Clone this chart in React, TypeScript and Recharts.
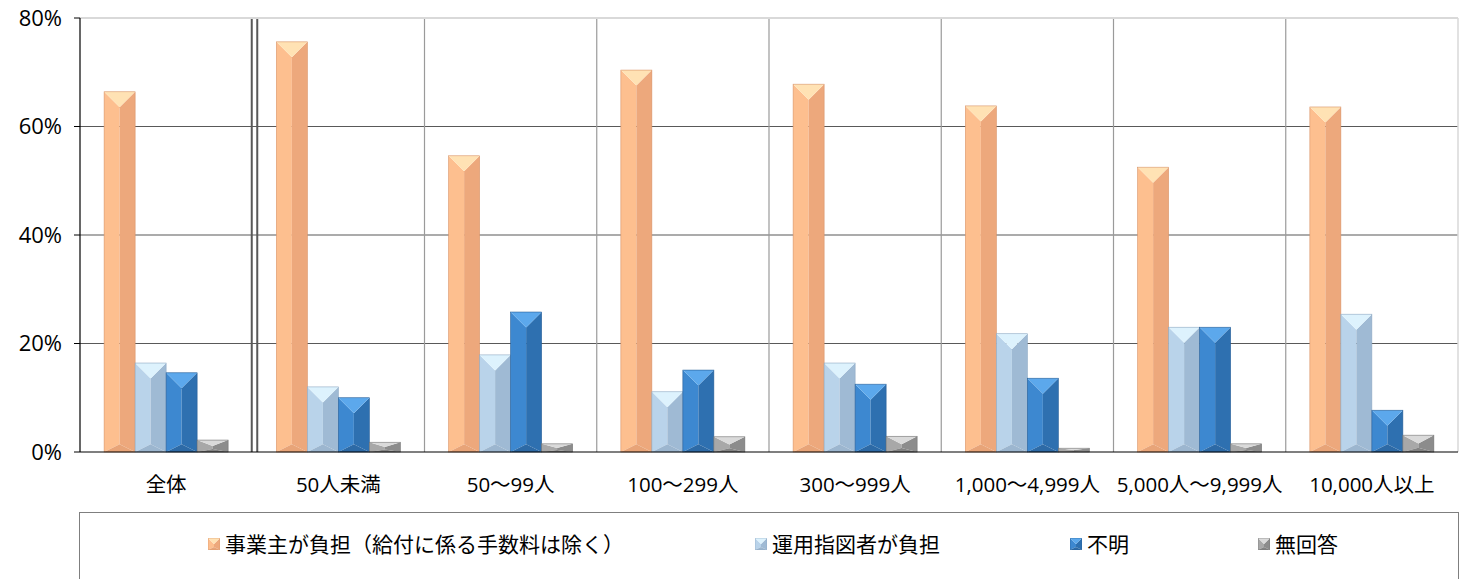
import React from 'react'
import {
  BarChart, Bar, XAxis, YAxis, CartesianGrid, ReferenceLine,
} from 'recharts'

// 企業規模別の負担区分（%）
const categories = ['全体', '50人未満', '50～99人', '100～299人', '300～999人', '1,000～4,999人', '5,000人～9,999人', '10,000人以上']
const employerBurden = [66.4, 75.6, 54.6, 70.4, 67.8, 63.8, 52.5, 63.6]
const participantBurden = [16.4, 12.0, 17.9, 11.1, 16.4, 21.8, 23.0, 25.4]
const unknown = [14.6, 10.0, 25.8, 15.1, 12.5, 13.6, 23.0, 7.7]
const noAnswer = [2.2, 1.8, 1.5, 2.8, 2.9, 0.7, 1.5, 3.1]
const yTicks = [0, 20, 40, 60, 80]

const seriesNames = ['事業主が負担（給付に係る手数料は除く）', '運用指図者が負担', '不明', '無回答']

type Shade = { left: string; right: string; top: string; bottom: string; edge: string }

const shades: Shade[] = [
  { left: '#FDBF8F', right: '#EDA87C', top: '#FFE2B4', bottom: '#E8A478', edge: '#D99468' },
  { left: '#B9D3EA', right: '#9FBAD4', top: '#DDF2FD', bottom: '#9CB6CF', edge: '#8EA9C3' },
  { left: '#3D88D0', right: '#2E70B0', top: '#5CA8EC', bottom: '#2D6AA6', edge: '#275F98' },
  { left: '#A8A8A8', right: '#8C8C8C', top: '#DADADA', bottom: '#838383', edge: '#747474' },
]

const data = categories.map((name, i) => ({
  name,
  employer: employerBurden[i],
  participant: participantBurden[i],
  unknown: unknown[i],
  noAnswer: noAnswer[i],
}))

const font = '"Open Sans", "Noto Sans CJK JP", sans-serif'

function bevel(x: number, y: number, w: number, h: number, s: Shade) {
  const d = Math.min(w / 2, h / 2)
  const b = Math.min(w / 4, h / 4)
  const cx = x + w / 2
  return (
    <g>
      <polygon points={`${x},${y} ${cx},${y + d} ${cx},${y + h - b} ${x},${y + h}`} fill={s.left} />
      <polygon points={`${x + w},${y} ${cx},${y + d} ${cx},${y + h - b} ${x + w},${y + h}`} fill={s.right} />
      <polygon points={`${x},${y} ${x + w},${y} ${cx},${y + d}`} fill={s.top} />
      <polygon points={`${x},${y + h} ${x + w},${y + h} ${cx},${y + h - b}`} fill={s.bottom} />
      <rect x={x} y={y} width={w} height={h} fill="none" stroke={s.edge} strokeWidth={0.6} />
    </g>
  )
}

const bevelShape = (s: Shade) => (props: any) => {
  const { x, y, width, height } = props
  if (!height || height <= 0) return <g />
  return bevel(x, y, width, height, s)
}

// category boundaries from the plot offset (8 equal bands)
const boundaries = (offset: any, idx: number[]) =>
  idx.map(i => offset.left + (offset.width * i) / categories.length)

function LegendBox() {
  const items = [
    { label: seriesNames[0], x: 208 },
    { label: seriesNames[1], x: 755 },
    { label: seriesNames[2], x: 1070 },
    { label: seriesNames[3], x: 1258 },
  ]
  return (
    <div style={{
      position: 'absolute', left: 79, top: 512, width: 1380, height: 80,
      border: '1.5px solid #7f7f7f', boxSizing: 'border-box',
    }}>
      {items.map((it, i) => (
        <div key={it.label} style={{ position: 'absolute', left: it.x - 80, top: 17, display: 'flex', alignItems: 'center' }}>
          <svg width={12} height={12} style={{ marginRight: 5 }}>{bevel(0, 0, 12, 12, shades[i])}</svg>
          <span style={{ fontSize: 21, color: '#000', lineHeight: '28px', fontFamily: font }}>{it.label}</span>
        </div>
      ))}
    </div>
  )
}

export default function App() {
  return (
    <div style={{ position: 'absolute', left: 0, top: 0, width: 1468, height: 579, background: '#fff', overflow: 'hidden', fontFamily: font }}>
      <BarChart
        width={1468}
        height={512}
        data={data}
        margin={{ top: 18, right: 10, left: 0, bottom: 0 }}
        barCategoryGap="14%"
        barGap={0}
      >
        <CartesianGrid vertical={false} horizontalValues={[20, 40, 60]} stroke="#595959" strokeWidth={1.2} />
        <CartesianGrid
          horizontal={false}
          verticalCoordinatesGenerator={({ offset }: any) => boundaries(offset, [2, 3, 4, 5, 6, 7])}
          stroke="#9a9a9a"
          strokeWidth={1.2}
        />
        <CartesianGrid
          horizontal={false}
          verticalCoordinatesGenerator={({ offset }: any) => {
            const b = boundaries(offset, [1])[0]
            return [b - 0.5, b + 5]
          }}
          stroke="#595959"
          strokeWidth={2}
        />
        <CartesianGrid
          horizontal={false}
          verticalCoordinatesGenerator={({ offset }: any) => boundaries(offset, [8])}
          stroke="#d9d9d9"
          strokeWidth={1.5}
        />
        <XAxis
          dataKey="name"
          height={60}
          tick={{ fontSize: 20.5, fill: '#000', fontFamily: font }}
          tickLine={false}
          axisLine={{ stroke: '#000', strokeWidth: 1.2 }}
          interval={0}
          dy={17}
        />
        <YAxis
          width={80}
          domain={[0, 80]}
          ticks={yTicks}
          tickFormatter={(v: number) => `${v}%`}
          tick={{ fontSize: 22, fill: '#000', fontFamily: font }}
          tickLine={{ stroke: '#000' }}
          tickSize={6}
          tickMargin={12}
          axisLine={{ stroke: '#000', strokeWidth: 1.2 }}
          interval={0}
        />
        <ReferenceLine y={80} stroke="#d9d9d9" strokeWidth={2} />
        <Bar dataKey="employer" name={seriesNames[0]} shape={bevelShape(shades[0])} isAnimationActive={false} />
        <Bar dataKey="participant" name={seriesNames[1]} shape={bevelShape(shades[1])} isAnimationActive={false} />
        <Bar dataKey="unknown" name={seriesNames[2]} shape={bevelShape(shades[2])} isAnimationActive={false} />
        <Bar dataKey="noAnswer" name={seriesNames[3]} shape={bevelShape(shades[3])} isAnimationActive={false} />
      </BarChart>
      <LegendBox />
    </div>
  )
}
